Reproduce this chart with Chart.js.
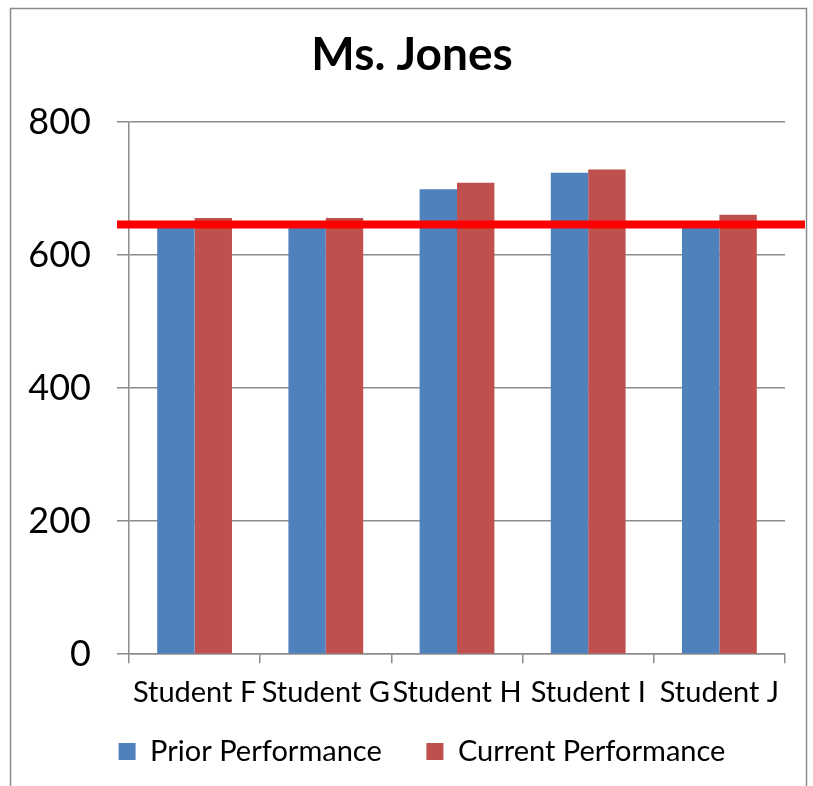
<!DOCTYPE html>
<html>
<head>
<meta charset="utf-8">
<script src="https://cdn.jsdelivr.net/npm/chart.js@4/dist/chart.umd.min.js"></script>
<style>
  html, body { margin: 0; padding: 0; background: #fff; }
  #wrap { position: relative; width: 813px; height: 786px; }
</style>
</head>
<body>
<div id="wrap"><canvas id="chart" width="813" height="786"></canvas></div>
<script>
const students = ["Student F", "Student G", "Student H", "Student I", "Student J"];
const priorScores = [645, 645, 699, 724, 645];
const currentScores = [656, 656, 709, 729, 661];
const yMax = 800;
const yStep = 200;
const targetScore = 646;

const FONT = "Lato, 'DejaVu Sans', sans-serif";
const GRID = "#8c8c8c";

// outer frame + the red target line that runs past the plot edge
const framePlugin = {
  id: "frame",
  beforeDraw(chart) {
    const ctx = chart.ctx;
    ctx.save();
    ctx.fillStyle = "#fff";
    ctx.fillRect(0, 0, chart.width, chart.height);
    ctx.strokeStyle = "#8a8a8a";
    ctx.lineWidth = 1.5;
    ctx.strokeRect(10.5, 8.5, 796, 800);
    ctx.restore();
  },
  afterLayout(chart) {
    // let the big y labels spill left of the padded box, nudge legend row right
    chart.scales.y.left = 0;
    chart.legend.left += 20;
  }
};
const targetLine = {
  id: "targetLine",
  afterDatasetsDraw(chart) {
    const ctx = chart.ctx;
    const y = chart.scales.y.getPixelForValue(targetScore);
    ctx.save();
    ctx.strokeStyle = "#ff0000";
    ctx.lineWidth = 8;
    ctx.beginPath();
    ctx.moveTo(117, y);
    ctx.lineTo(805, y);
    ctx.stroke();
    ctx.restore();
  }
};

new Chart(document.getElementById("chart"), {
  type: "bar",
  data: {
    labels: students,
    datasets: [
      { label: "Prior Performance    ", data: priorScores, backgroundColor: "#4f81bd" },
      { label: "Current Performance", data: currentScores, backgroundColor: "#c0504d" }
    ]
  },
  options: {
    responsive: false,
    animation: false,
    devicePixelRatio: 1,
    categoryPercentage: 0.57,
    barPercentage: 1,
    layout: { padding: { top: 28, left: 39, right: 28, bottom: 10 } },
    plugins: {
      title: {
        display: true,
        text: "Ms. Jones",
        color: "#000",
        font: { family: FONT, size: 46, weight: "bold", lineHeight: 1.2 },
        padding: { top: 0, bottom: 39 }
      },
      legend: {
        position: "bottom",
        labels: {
          color: "#000",
          font: { family: FONT, size: 29 },
          boxWidth: 17,
          boxHeight: 17,
          padding: 15
        }
      },
      tooltip: { enabled: false }
    },
    scales: {
      x: {
        grid: { drawOnChartArea: false, color: GRID, lineWidth: 1.5, tickLength: 9 },
        border: { color: GRID, width: 1.5 },
        ticks: { color: "#000", font: { family: FONT, size: 29 }, autoSkip: false, maxRotation: 0, padding: 12 }
      },
      y: {
        min: 0,
        max: yMax,
        afterFit: s => { s.width = 90; },
        grid: { color: GRID, lineWidth: 1.5, tickLength: 12 },
        border: { color: GRID, width: 1.5 },
        ticks: { stepSize: yStep, color: "#000", font: { family: FONT, size: 36 }, padding: 26 }
      }
    }
  },
  plugins: [framePlugin, targetLine]
});
</script>
</body>
</html>
